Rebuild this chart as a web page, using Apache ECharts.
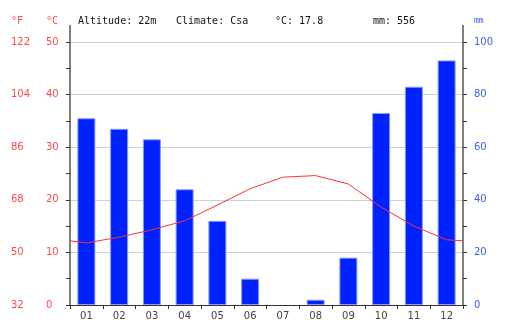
<!DOCTYPE html>
<html>
<head>
<meta charset="utf-8">
<script src="https://cdn.jsdelivr.net/npm/echarts@6/dist/echarts.min.js"></script>
<style>html,body{margin:0;padding:0;background:#fff}#c{width:505px;height:336px}</style>
</head>
<body>
<div id="c"></div>
<script>
const months = ['01','02','03','04','05','06','07','08','09','10','11','12'];
const precipMm = [71, 67, 63, 44, 32, 10, 0, 2, 18, 73, 83, 93];
const tempC = [11.8, 12.9, 14.3, 16.0, 19.0, 22.1, 24.3, 24.6, 23.0, 18.6, 15.0, 12.4];
const edgeTempC = 12.2; // value where the curve meets the plot edges
const fTicks = [32, 50, 68, 86, 104, 122];
const infoAltitude = 'Altitude: 22m';
const infoClimate = 'Climate: Csa';
const infoTemp = '°C: 17.8';
const infoPrecip = 'mm: 556';

const red = '#ff4a4a';
const blue = '#3f5bff';
const L = 70, R = 463, T = 42, B = 305;

const linePts = [[0.5, edgeTempC]].concat(tempC.map((v, i) => [i + 1, v])).concat([[12.5, edgeTempC]]);
const barData = precipMm.map(v => v > 0 ? v : {value: v, itemStyle: {borderWidth: 0}});

const chart = echarts.init(document.getElementById('c'), null, {renderer: 'canvas'});
const mono = 'DejaVu Sans Mono';
const sans = 'DejaVu Sans';
chart.setOption({
  animation: false,
  grid: {left: L, right: 505 - R, top: T, bottom: 336 - B},
  xAxis: [
    {type: 'category', data: months, boundaryGap: true,
     axisLine: {lineStyle: {color: '#333', width: 1}},
     axisTick: {show: true, length: 4, lineStyle: {color: '#333'}},
     axisLabel: {color: '#444', fontFamily: sans, fontSize: 10, margin: 6},
     splitLine: {show: false}},
    {type: 'value', min: 0.5, max: 12.5, show: false}
  ],
  yAxis: [
    {type: 'value', min: 0, max: 50, interval: 10, position: 'left',
     axisLine: {show: true, lineStyle: {color: '#808080', width: 2}},
     axisTick: {show: true, length: 4, lineStyle: {color: '#333'}},
     minorTick: {show: true, splitNumber: 2, length: 4, lineStyle: {color: '#333'}},
     axisLabel: {color: red, fontFamily: sans, fontSize: 10, margin: 24, align: 'left'},
     splitLine: {show: true, lineStyle: {color: '#d0d0d0', width: 1}}},
    {type: 'value', min: 0, max: 100, interval: 20, position: 'right',
     axisLine: {show: true, lineStyle: {color: '#808080', width: 2}},
     axisTick: {show: true, length: 4, lineStyle: {color: '#333'}},
     minorTick: {show: true, splitNumber: 2, length: 4, lineStyle: {color: '#333'}},
     axisLabel: {color: blue, fontFamily: sans, fontSize: 10, margin: 11, align: 'left'},
     splitLine: {show: false}},
    {type: 'value', min: 32, max: 122, interval: 18, position: 'left', offset: 0,
     axisLine: {show: false}, axisTick: {show: false},
     axisLabel: {color: red, fontFamily: sans, fontSize: 10, margin: 59, align: 'left',
       formatter: v => fTicks.indexOf(v) >= 0 ? String(v) : ''},
     splitLine: {show: false}}
  ],
  series: [
    {type: 'bar', data: barData, xAxisIndex: 0, yAxisIndex: 1, barWidth: 18,
     itemStyle: {color: '#0022ff', borderColor: '#8a98ff', borderWidth: 1}, z: 2},
    {type: 'line', data: linePts, xAxisIndex: 1, yAxisIndex: 0, symbol: 'none',
     lineStyle: {color: '#ff3030', width: 1}, z: 3}
  ],
  graphic: [
    {type: 'line', shape: {x1: L, y1: 25, x2: L, y2: T}, style: {stroke: '#808080', lineWidth: 2}},
    {type: 'line', shape: {x1: R, y1: 25, x2: R, y2: T}, style: {stroke: '#808080', lineWidth: 2}},
    {type: 'text', left: 11, top: 16, style: {text: '°F', fill: red, font: '10px ' + mono}},
    {type: 'text', left: 46, top: 16, style: {text: '°C', fill: red, font: '10px ' + mono}},
    {type: 'text', left: 78, top: 16, style: {text: infoAltitude, fill: '#111', font: '10px ' + mono}},
    {type: 'text', left: 176, top: 16, style: {text: infoClimate, fill: '#111', font: '10px ' + mono}},
    {type: 'text', left: 275, top: 16, style: {text: infoTemp, fill: '#111', font: '10px ' + mono}},
    {type: 'text', left: 373, top: 16, style: {text: infoPrecip, fill: '#111', font: '10px ' + mono}},
    {type: 'text', left: 474, top: 17, style: {text: 'mm', fill: blue, font: '8px ' + mono}}
  ]
});
</script>
</body>
</html>
